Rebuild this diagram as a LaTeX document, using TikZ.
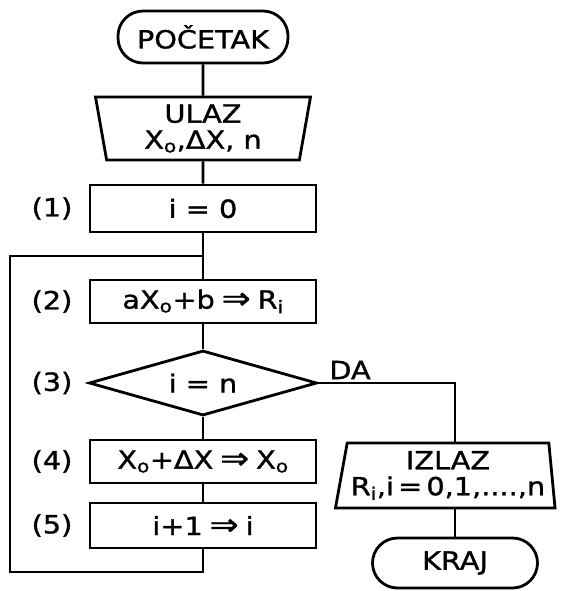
\documentclass[tikz,border=0pt]{standalone}
\usepackage{fontspec}
\setmainfont{DejaVu Sans}[FakeStretch=1.15,FakeBold=1.2]
\usetikzlibrary{shapes.geometric}
\newcommand{\darrow}{\;{\fontsize{30}{30}\selectfont ⇒}\;}
\begin{document}
\begin{tikzpicture}[x=1pt,y=-1pt,
  txt/.style={font=\fontsize{25}{27}\selectfont},
  flow/.style={txt, draw, line width=2.8pt, inner sep=0pt, align=center},
  box/.style={flow, rectangle, minimum width=226pt},
  term/.style={flow, rectangle, rounded corners=25pt, minimum height=52pt},
  io/.style={flow, trapezium, trapezium stretches=true},
  dec/.style={flow, diamond, aspect=4, minimum width=228pt, minimum height=65pt},
  conn/.style={line width=2.8pt}]
\useasboundingbox (0,0) rectangle (561,591);

\node[term, minimum width=170pt] (start) at (203,37) {POČETAK};
\node[io, minimum width=215pt, minimum height=63pt, trapezium left angle=82,
      trapezium right angle=82, shape border rotate=180] (in) at (203,128.5)
      {ULAZ\\[-1pt]X\textsubscript{o},ΔX, n};
\node[box, minimum height=47pt] (b1) at (203,208.5) {i = 0};
\node[box, minimum height=43pt] (b2) at (203,301.5) {aX\textsubscript{o}+b\darrow R\textsubscript{i}};
\node[dec] (d3) at (203,383) {i = n};
\node[box, minimum height=43pt] (b4) at (203,461.5) {X\textsubscript{o}+ΔX\darrow X\textsubscript{o}};
\node[box, minimum height=45pt] (b5) at (203,525.5) {i+1\darrow i};
\node[io, minimum width=220pt, minimum height=65pt, trapezium left angle=77,
      trapezium right angle=83] (out) at (448,475.5)
      {IZLAZ\\[-1pt]R\textsubscript{i},i\,=\,0,1,....,n};
\node[term, minimum width=165pt, minimum height=50pt] (end) at (455,563) {KRAJ};

\node[txt] (l1) at (52,208.5) {(1)};
\node[txt] (l2) at (52,301.5) {(2)};
\node[txt] (l3) at (52,383) {(3)};
\node[txt] (l4) at (52,461.5) {(4)};
\node[txt] (l5) at (52,525.5) {(5)};
\node[txt] (da) at (350,370) {DA};

\coordinate (lbot) at (10,572);
\coordinate (ltop) at (10,256);

\draw[conn] (start) -- (in);
\draw[conn] (in) -- (b1);
\draw[conn] (b1) -- (b2);
\draw[conn] (b2) -- (d3);
\draw[conn] (d3) -- (b4);
\draw[conn] (b4) -- (b5);
\draw[conn] (b5.south) |- (lbot) -- (ltop) -- (ltop -| b2.north);
\draw[conn] (d3.east) -| (end.north |- out.north);
\draw[conn] (end.north |- out.south) -- (end.north);
\end{tikzpicture}
\end{document}
